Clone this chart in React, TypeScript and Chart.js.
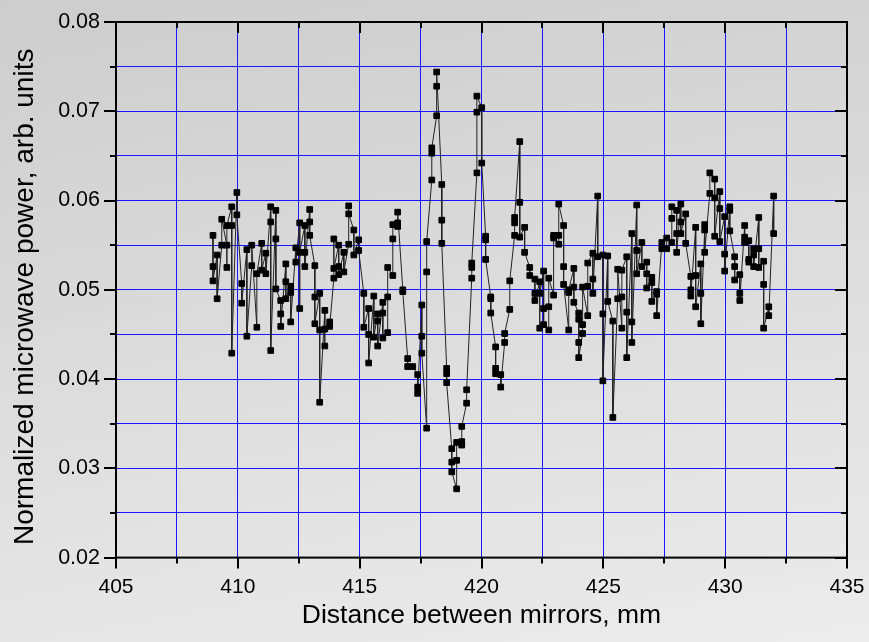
import { useEffect, useRef } from 'react';
import { Chart, registerables } from 'chart.js';

Chart.register(...registerables);

// Axis ranges
const xMin = 405;
const xMax = 435;
const xStep = 2.5;
const yMin = 0.02;
const yMax = 0.08;
const yStep = 0.005;

const xTitle = 'Distance between mirrors, mm';
const yTitle = 'Normalized microwave power, arb. units';

// Mirror positions (mm) and the readings taken at each position
const positions = [
  408.98, 409.15, 409.34, 409.55, 409.75, 409.96, 410.16, 410.37, 410.57, 410.78,
  410.98, 411.15, 411.35, 411.56, 411.76, 411.97, 412.17, 412.38, 412.54, 412.75,
  412.95, 413.16, 413.36, 413.57, 413.77, 413.94, 414.14, 414.35, 414.55, 414.76,
  414.96, 415.17, 415.37, 415.58, 415.74, 415.95, 416.15, 416.36, 416.56, 416.77,
  416.97, 417.18, 417.38, 417.55, 417.75, 417.96, 418.16, 418.37, 418.57, 418.78,
  418.98, 419.19, 419.39, 419.6, 419.81, 420.01, 420.17, 420.38, 420.58, 420.79,
  420.95, 421.16, 421.36, 421.57, 421.77, 421.98, 422.19, 422.39, 422.55, 422.76,
  422.96, 423.17, 423.37, 423.58, 423.79, 423.99, 424.15, 424.36, 424.57, 424.77,
  424.98, 425.18, 425.39, 425.59, 425.76, 425.96, 426.17, 426.37, 426.58, 426.78,
  426.99, 427.19, 427.4, 427.6, 427.81, 428.01, 428.18, 428.38, 428.59, 428.79,
  429.0, 429.16, 429.37, 429.57, 429.78, 429.98, 430.19, 430.39, 430.6, 430.8,
  430.97, 431.17, 431.38, 431.58, 431.79, 431.99,
];

const readings = [
  [0.0561, 0.0526, 0.051], [0.0539, 0.049], [0.055, 0.0579], [0.055, 0.0525, 0.0572],
  [0.0593, 0.0572, 0.0429], [0.0609, 0.0584], [0.0507, 0.0485], [0.0545, 0.0448],
  [0.0527, 0.055], [0.0458, 0.0518], [0.0552, 0.0522], [0.0541, 0.0518],
  [0.0593, 0.0576, 0.0432], [0.0589, 0.0557, 0.0501], [0.0488, 0.0473, 0.0459],
  [0.0529, 0.0509, 0.049], [0.0504, 0.0497, 0.0464], [0.0547, 0.0531],
  [0.0575, 0.0479, 0.0542], [0.0572, 0.0542, 0.0526], [0.059, 0.0576, 0.0561],
  [0.0527, 0.0492, 0.0462], [0.0496, 0.0455, 0.0374], [0.0477, 0.0437, 0.0456],
  [0.0464, 0.0459], [0.0513, 0.0557, 0.0524], [0.055, 0.0526, 0.0517], [0.0542, 0.052],
  [0.0551, 0.0594, 0.0585], [0.0567, 0.0539], [0.0556, 0.0544], [0.0496, 0.0458],
  [0.0479, 0.045, 0.0418], [0.0493, 0.0447], [0.0473, 0.0465, 0.0437],
  [0.0486, 0.0474, 0.0446], [0.0452, 0.0492, 0.0525], [0.0516, 0.0557, 0.0573],
  [0.0571, 0.0575, 0.0587], [0.05, 0.0498], [0.0423, 0.0414], [0.0414],
  [0.0405, 0.0391, 0.0384], [0.0483, 0.0448, 0.0429], [0.0345, 0.052, 0.0554],
  [0.0623, 0.0653, 0.0659], [0.0695, 0.0728, 0.0744], [0.0618, 0.0578, 0.0552],
  [0.0412, 0.0406, 0.0396], [0.0322, 0.0307, 0.0296], [0.0277, 0.0309, 0.0329],
  [0.0326, 0.033, 0.0347], [0.0373, 0.0388], [0.0513, 0.0525, 0.053],
  [0.0631, 0.0699, 0.0717], [0.0704, 0.0642], [0.056, 0.0556, 0.0534],
  [0.0492, 0.049, 0.0474], [0.0436, 0.0412, 0.0406], [0.0405, 0.0391], [0.0441, 0.0451],
  [0.0478, 0.051], [0.0561, 0.0575, 0.0581], [0.0666, 0.0598, 0.0559], [0.057, 0.0542],
  [0.0525, 0.0516], [0.0512, 0.0496, 0.0488], [0.0509, 0.0457, 0.0496],
  [0.0521, 0.0479, 0.0461], [0.0455, 0.0481, 0.0513], [0.0494, 0.0558, 0.0561],
  [0.0551, 0.0561, 0.0596], [0.0572, 0.0526, 0.0506], [0.0455, 0.0497, 0.05],
  [0.0524, 0.0503, 0.0486], [0.0474, 0.0467, 0.0441, 0.0424], [0.0451, 0.0461, 0.0503],
  [0.0471, 0.0504, 0.053], [0.0541, 0.0512, 0.0496], [0.0605, 0.0537],
  [0.0539, 0.0473, 0.0398], [0.0538, 0.0487], [0.0465, 0.0357], [0.049, 0.0523],
  [0.0457, 0.0492, 0.0522], [0.0537, 0.0475, 0.0424], [0.0563, 0.0464, 0.0441],
  [0.0595, 0.0544, 0.0518], [0.0553, 0.0526], [0.0531, 0.0518, 0.0502],
  [0.0514, 0.0508, 0.0487], [0.0498, 0.0495, 0.0471], [0.0553, 0.0546], [0.0546, 0.0558],
  [0.0553, 0.058, 0.0593], [0.0589, 0.0563, 0.0542], [0.0596, 0.0576, 0.0563],
  [0.0585, 0.0552], [0.0515, 0.05, 0.0493], [0.057, 0.0516, 0.0481],
  [0.0529, 0.0496, 0.0462], [0.0567, 0.0573, 0.0542], [0.0608, 0.0631],
  [0.0624, 0.0603, 0.056], [0.061, 0.0591, 0.0554], [0.0582, 0.054, 0.0521],
  [0.0593, 0.0589, 0.0566], [0.0537, 0.0526, 0.0511], [0.0517, 0.0496, 0.0488],
  [0.0572, 0.0559, 0.0553], [0.0555, 0.0534, 0.0531], [0.0546, 0.0539, 0.0526],
  [0.0581, 0.0546, 0.0525], [0.0532, 0.0506, 0.0457], [0.0481, 0.0471], [0.0605, 0.0563],
];

const FONT = '"Liberation Sans", Arial, sans-serif';
const GRID_BLUE = 'rgb(24,24,255)';

const isMajorX = (v: number) => Math.abs(v / 5 - Math.round(v / 5)) < 1e-6;
const isMajorY = (v: number) => Math.abs(v * 100 - Math.round(v * 100)) < 1e-6;

const framePlugin = {
  id: 'frameTicks',
  beforeDatasetsDraw(chart: any) {
    const { ctx, chartArea } = chart;
    const { left, right, top, bottom } = chartArea;
    const xs = chart.scales.x;
    const ys = chart.scales.y;
    ctx.save();
    ctx.strokeStyle = '#000';
    ctx.lineWidth = 2;
    ctx.strokeRect(left, top, right - left, bottom - top);
    ctx.beginPath();
    xs.ticks.forEach((t: any) => {
      const px = Math.round(xs.getPixelForValue(t.value));
      const len = isMajorX(t.value) ? 11 : 6;
      ctx.moveTo(px, bottom);
      ctx.lineTo(px, bottom + len);
      ctx.moveTo(px, top);
      ctx.lineTo(px, top + len);
    });
    ys.ticks.forEach((t: any) => {
      const py = Math.round(ys.getPixelForValue(t.value));
      const len = isMajorY(t.value) ? 12 : 6;
      ctx.moveTo(left, py);
      ctx.lineTo(left - len, py);
      ctx.moveTo(right, py);
      ctx.lineTo(right - len, py);
    });
    ctx.stroke();
    ctx.restore();
  },
  afterDraw(chart: any) {
    const { ctx, chartArea } = chart;
    ctx.save();
    ctx.fillStyle = '#000';
    ctx.font = `28px ${FONT}`;
    ctx.textAlign = 'center';
    ctx.textBaseline = 'middle';
    ctx.translate(25, (chartArea.top + chartArea.bottom) / 2 + 7);
    ctx.rotate(-Math.PI / 2);
    ctx.fillText(yTitle, 0, 0);
    ctx.restore();
  },
};

export default function App() {
  const canvasRef = useRef<HTMLCanvasElement | null>(null);

  useEffect(() => {
    document.body.style.margin = '0';
    const canvas = canvasRef.current;
    if (!canvas) return;

    const points = positions.flatMap((p, i) => readings[i].map((v) => ({ x: p, y: v })));

    const chart = new Chart(canvas, {
      type: 'scatter',
      data: {
        datasets: [
          {
            data: points,
            showLine: true,
            borderColor: '#222',
            borderWidth: 1,
            pointStyle: 'rect',
            pointRadius: 4,
            pointBorderWidth: 1,
            pointBackgroundColor: '#000',
            pointBorderColor: '#000',
          },
        ],
      },
      options: {
        animation: false,
        responsive: false,
        devicePixelRatio: 1,
        layout: { padding: { top: 22, right: 22, bottom: 0, left: 0 } },
        plugins: { legend: { display: false }, tooltip: { enabled: false } },
        scales: {
          x: {
            type: 'linear',
            min: xMin,
            max: xMax,
            ticks: {
              stepSize: xStep,
              autoSkip: false,
              maxRotation: 0,
              padding: 17,
              color: '#000',
              font: { family: FONT, size: 21 },
              callback: (v: any) => (isMajorX(Number(v)) ? String(Math.round(Number(v))) : ''),
            },
            grid: { color: GRID_BLUE, lineWidth: 1, drawTicks: false },
            border: { display: false },
            title: {
              display: true,
              text: xTitle,
              color: '#000',
              font: { family: FONT, size: 26.5 },
              padding: { top: 0, bottom: 10 },
            },
            afterFit: (s: any) => {
              s.height = 84.4;
              s.paddingLeft = 0;
              s.paddingRight = 0;
            },
          },
          y: {
            type: 'linear',
            min: yMin,
            max: yMax,
            ticks: {
              stepSize: yStep,
              autoSkip: false,
              padding: 16,
              color: '#000',
              font: { family: FONT, size: 21.5 },
              callback: (v: any) => (isMajorY(Number(v)) ? Number(v).toFixed(2) : ''),
            },
            grid: { color: GRID_BLUE, lineWidth: 1, drawTicks: false },
            border: { display: false },
            title: { display: false },
            afterFit: (s: any) => {
              s.width = 116;
              s.paddingTop = 0;
              s.paddingBottom = 0;
            },
          },
        },
      },
      plugins: [framePlugin],
    });

    return () => chart.destroy();
  }, []);

  return (
    <div
      style={{
        width: 869,
        height: 642,
        background: 'linear-gradient(170deg, #cdcdcd 0%, #dedede 55%, #ececec 100%)',
      }}
    >
      <canvas ref={canvasRef} width={869} height={642} style={{ display: 'block' }} />
    </div>
  );
}
